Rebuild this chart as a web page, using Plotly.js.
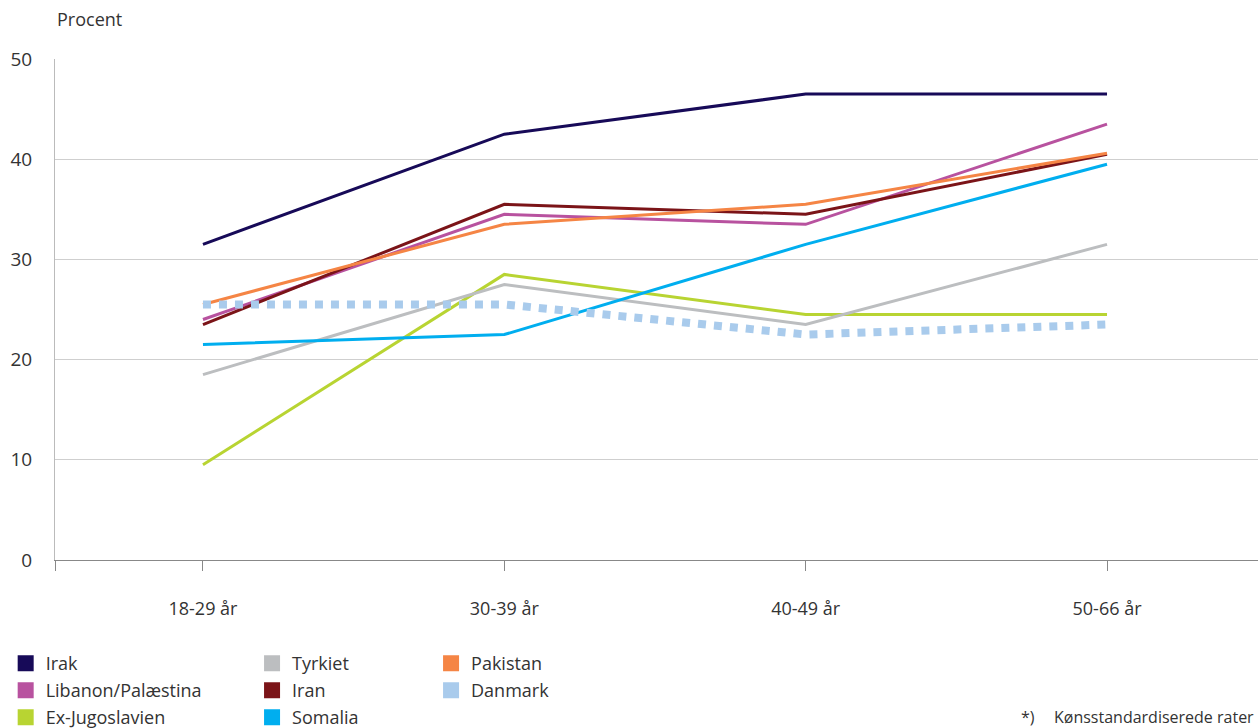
<!DOCTYPE html>
<html>
<head>
<meta charset="utf-8">
<script src="https://cdn.plot.ly/plotly-3.0.1.min.js"></script>
<style>html,body{margin:0;padding:0;background:#fff;}#chart{width:1258px;height:728px;}</style>
</head>
<body>
<div id="chart"></div>
<script>
// Data (percent)
const categories = ["18-29 år", "30-39 år", "40-49 år", "50-66 år"];
const irak        = [31.5, 42.5, 46.5, 46.5];
const libanon     = [24.0, 34.5, 33.5, 43.5];
const exJugo      = [9.5, 28.5, 24.5, 24.5];
const tyrkiet     = [18.5, 27.5, 23.5, 31.5];
const iran        = [23.5, 35.5, 34.5, 40.5];
const somalia     = [21.5, 22.5, 31.5, 39.5];
const pakistan    = [25.5, 33.5, 35.5, 40.6];
const danmark     = [25.5, 25.5, 22.5, 23.5];
const yTicks      = [0, 10, 20, 30, 40, 50];

const series = [
  {name: "Ex-Jugoslavien",    y: exJugo,   color: "#b8d432", legend: "legend",  rank: 3},
  {name: "Tyrkiet",           y: tyrkiet,  color: "#bcbec0", legend: "legend2", rank: 1},
  {name: "Somalia",           y: somalia,  color: "#00aeef", legend: "legend2", rank: 3},
  {name: "Libanon/Palæstina", y: libanon,  color: "#b8529f", legend: "legend",  rank: 2},
  {name: "Iran",              y: iran,     color: "#7b1418", legend: "legend2", rank: 2},
  {name: "Pakistan",          y: pakistan, color: "#f58545", legend: "legend3", rank: 1},
  {name: "Irak",              y: irak,     color: "#170a58", legend: "legend",  rank: 1},
  {name: "Danmark",           y: danmark,  color: "#a9cbec", legend: "legend3", rank: 2, dotted: true}
];

const xIdx = categories.map((c, i) => i);
const FONT = "Open Sans, Noto Sans, sans-serif";
const traces = [];
series.forEach(s => {
  traces.push({
    x: xIdx, y: s.y, type: "scatter", mode: "lines", name: s.name,
    legendgroup: s.name, showlegend: false, hoverinfo: "name+y",
    line: {color: s.color, width: s.dotted ? 8 : 3, dash: s.dotted ? "dot" : "solid"}
  });
});
// legend swatches (squares) linked to lines
series.forEach(s => {
  traces.push({
    x: [null], y: [null], type: "scatter", mode: "markers", name: s.name,
    legendgroup: s.name, legend: s.legend, legendrank: s.rank, showlegend: true,
    marker: {symbol: "square", size: 16, color: s.color}
  });
});

const legendBase = {
  orientation: "v", yanchor: "top", y: -0.17, xanchor: "left",
  font: {family: FONT, size: 18, color: "#333"}, bgcolor: "rgba(0,0,0,0)",
  traceorder: "grouped", tracegroupgap: 0.6, itemclick: false
};

const layout = {
  width: 1258, height: 728,
  margin: {l: 55, r: 0, t: 59, b: 168, autoexpand: false},
  paper_bgcolor: "#fff", plot_bgcolor: "#fff",
  font: {family: FONT, size: 18, color: "#333"},
  xaxis: {
    range: [-0.491, 3.501], tickmode: "array", automargin: false,
    tickvals: [-0.491].concat(xIdx), ticktext: [""].concat(categories),
    ticks: "outside", ticklen: 10, tickcolor: "#888", tickwidth: 1,
    ticklabelstandoff: 22,
    showgrid: false, zeroline: false, showline: true, linecolor: "#888", linewidth: 1,
    tickfont: {family: FONT, size: 18, color: "#333"}
  },
  yaxis: {
    range: [0, 50], tickmode: "array", tickvals: yTicks, ticktext: yTicks.map(String), automargin: false,
    showgrid: true, gridcolor: "#cfcfcf", gridwidth: 1, zeroline: false,
    showline: true, linecolor: "#bbb", linewidth: 1, ticks: "",
    ticklabelstandoff: 18,
    tickfont: {family: FONT, size: 19, color: "#333"}
  },
  legend:  Object.assign({}, legendBase, {x: -0.041}),
  legend2: Object.assign({}, legendBase, {x: 0.1638}),
  legend3: Object.assign({}, legendBase, {x: 0.3126}),
  showlegend: true,
  annotations: [
    {text: "Procent", xref: "paper", yref: "paper", x: 0, y: 1.08, xanchor: "left", yanchor: "middle",
     showarrow: false, font: {family: FONT, size: 18, color: "#333"}},
    {text: "*)", xref: "paper", yref: "paper", x: 0.8015, y: -0.313, xanchor: "left", yanchor: "middle",
     showarrow: false, font: {family: FONT, size: 16, color: "#333"}},
    {text: "Kønsstandardiserede rater", xref: "paper", yref: "paper", x: 0.9985, y: -0.313, xanchor: "right", yanchor: "middle",
     showarrow: false, font: {family: FONT, size: 16, color: "#333"}}
  ]
};

Plotly.newPlot("chart", traces, layout, {displayModeBar: false, staticPlot: true});
</script>
</body>
</html>
